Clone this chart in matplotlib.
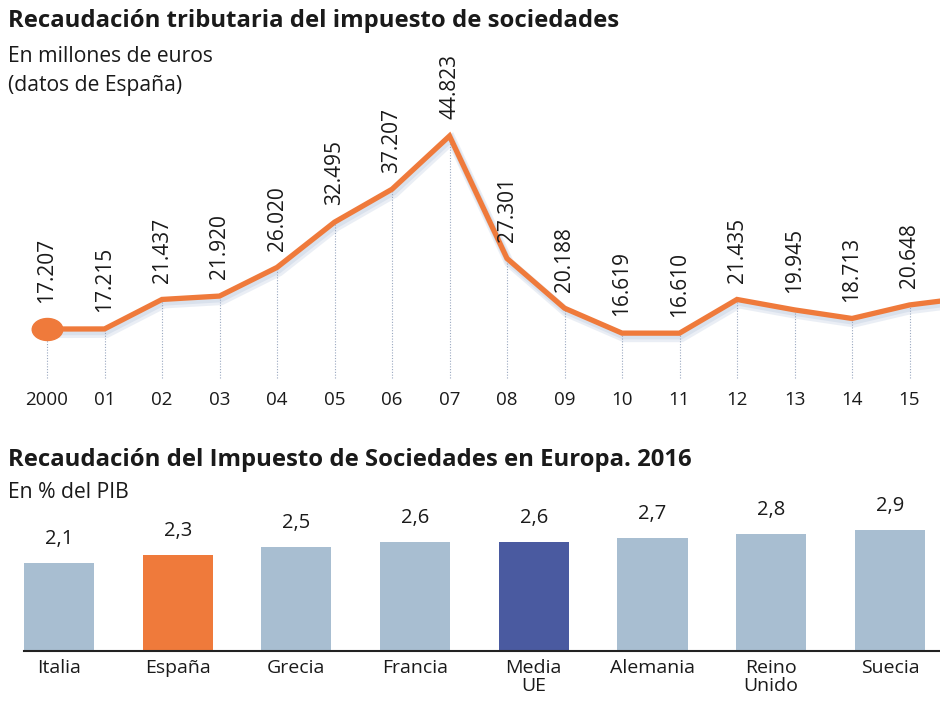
import matplotlib
matplotlib.use("Agg")
import matplotlib.pyplot as plt
import matplotlib.patheffects as pe
from matplotlib.path import Path
from matplotlib.transforms import blended_transform_factory, Affine2D
import numpy as np

plt.rcParams['font.family'] = ['Open Sans', 'DejaVu Sans']

# ---- data ----
years = list(range(2000, 2017))
year_labels = ["2000", "01", "02", "03", "04", "05", "06", "07", "08", "09",
               "10", "11", "12", "13", "14", "15"]
revenue = [17.207, 17.215, 21.437, 21.920, 26.020, 32.495, 37.207, 44.823,
           27.301, 20.188, 16.619, 16.610, 21.435, 19.945, 18.713, 20.648, 21.678]
revenue_labels = ["17.207", "17.215", "21.437", "21.920", "26.020", "32.495",
                  "37.207", "44.823", "27.301", "20.188", "16.619", "16.610",
                  "21.435", "19.945", "18.713", "20.648"]

countries = ["Italia", "España", "Grecia", "Francia", "Media\nUE",
             "Alemania", "Reino\nUnido", "Suecia"]
pib_pct = [2.1, 2.3, 2.5, 2.6, 2.6, 2.7, 2.8, 2.9]
pib_labels = ["2,1", "2,3", "2,5", "2,6", "2,6", "2,7", "2,8", "2,9"]

ORANGE = "#EF7a3b"
GREY_BLUE = "#A8BED1"
NAVY = "#4A5AA0"
TXT = "#1a1a1a"

W, H = 940, 705
fig = plt.figure(figsize=(W / 100, H / 100), dpi=100)

def fx(px):
    return px / W

def fy(py):
    return 1 - py / H

# ---- titles ----
fig.text(fx(8), fy(21), "Recaudación tributaria del impuesto de sociedades",
         fontsize=17.2, fontweight='bold', ha='left', va='center', color=TXT)
fig.text(fx(8), fy(57), "En millones de euros", fontsize=15.2, ha='left', va='center', color=TXT)
fig.text(fx(8), fy(86), "(datos de España)", fontsize=15.2, ha='left', va='center', color=TXT)
fig.text(fx(8), fy(460), "Recaudación del Impuesto de Sociedades en Europa. 2016",
         fontsize=17.2, fontweight='bold', ha='left', va='center', color=TXT)
fig.text(fx(8), fy(493), "En % del PIB", fontsize=15.2, ha='left', va='center', color=TXT)

# ---- line chart ----
x0_px, step_px = 47, 57.5
top_px, bot_px = 130, 380
ax1 = fig.add_axes([0, fy(bot_px), 1, (bot_px - top_px) / H])
xlim = (2000 - x0_px / step_px, 2000 + (W - x0_px) / step_px)
ppu = 6.99
ylo = 17.207 - (bot_px - 329) / ppu
yhi = 44.823 + (136 - top_px) / ppu
ax1.set_xlim(*xlim)
ax1.set_ylim(ylo, yhi)
ax1.axis('off')

n_lab = len(revenue_labels)
ax1.vlines(years[:n_lab], ylo + 0.3, revenue[:n_lab], colors="#9aa8c0",
           linestyles=(0, (1, 1.5)), linewidth=0.8, zorder=1)
ax1.plot(years, revenue, color=ORANGE, linewidth=3.8, solid_joinstyle='miter',
         zorder=3, clip_on=True,
         path_effects=[pe.SimpleLineShadow(offset=(1.5, -3), shadow_color="#8fa6c8", alpha=0.18, linewidth=7),
                       pe.SimpleLineShadow(offset=(1.0, -2), shadow_color="#8fa6c8", alpha=0.18, linewidth=5),
                       pe.Normal()])

ell = Path.unit_circle().transformed(Affine2D().scale(1.0, 0.72))
ax1.plot([years[0]], [revenue[0]], marker=ell, markersize=22, color=ORANGE,
         linestyle='none', zorder=4, clip_on=False)

for i, (yr, v, lab) in enumerate(zip(years, revenue, revenue_labels)):
    off = 19 if i == 0 else 12
    ax1.annotate(lab, (yr, v), xytext=(0, off), textcoords='offset points',
                 rotation=90, ha='center', va='bottom', fontsize=15,
                 color=TXT, annotation_clip=False)

trans = blended_transform_factory(ax1.transData, fig.transFigure)
for yr, lab in zip(years, year_labels):
    fig.text(yr, fy(400), lab, transform=trans, ha='center', va='center',
             fontsize=13.5, color=TXT)

# ---- bar chart ----
bx0, bstep = 59, 118.7
base_px, btop_px = 651, 500
ax2 = fig.add_axes([0, fy(base_px), 1, (base_px - btop_px) / H])
ax2.set_xlim(-bx0 / bstep, (W - bx0) / bstep)
bppu = 41.8
ax2.set_ylim(0, (base_px - btop_px) / bppu)
ax2.axis('off')

colors = [GREY_BLUE] * len(countries)
colors[countries.index("España")] = ORANGE
colors[countries.index("Media\nUE")] = NAVY
xs = np.arange(len(countries))
ax2.bar(xs, pib_pct, width=0.59, color=colors, zorder=2)
ax2.plot([-0.295, (W - bx0) / bstep], [0, 0], color="#222222", linewidth=1.5,
         zorder=3, clip_on=False)
for x, v, lab in zip(xs, pib_pct, pib_labels):
    ax2.annotate(lab, (x, v), xytext=(0, 10), textcoords='offset points',
                 ha='center', va='bottom', fontsize=14.5, color=TXT,
                 annotation_clip=False)
trans2 = blended_transform_factory(ax2.transData, fig.transFigure)
for x, c in zip(xs, countries):
    fig.text(x, fy(659), c, transform=trans2, ha='center', va='top',
             fontsize=14, color=TXT, linespacing=1.0)

fig.savefig("out.png", dpi=100)
